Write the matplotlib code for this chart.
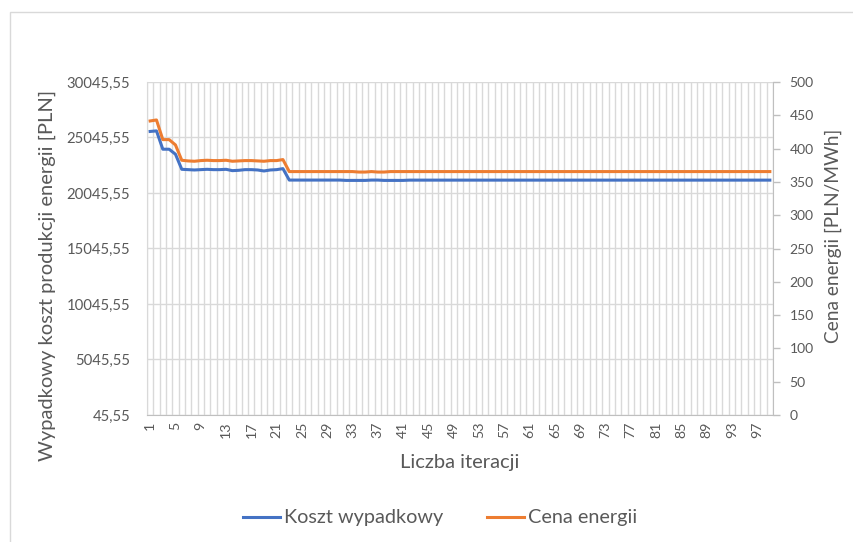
import matplotlib.pyplot as plt
from matplotlib.patches import Rectangle

plt.rcParams['font.family'] = ['Lato', 'DejaVu Sans']

# dane
iteracje = list(range(1, 100))

koszt = ([25590, 25640, 23990, 23990, 23540, 22180,
          22150, 22120, 22150, 22180, 22150, 22150, 22180, 22060, 22090, 22150,
          22150, 22120, 22030, 22120, 22150, 22240]
         + [21210] * 9 + [21180] * 4 + [21210] * 2 + [21180] * 4 + [21205] * 58)

cena = ([441.5, 443.0, 413.5, 413.5, 405.5, 382.5,
         381.5, 381.0, 382.0, 382.5, 382.0, 382.0, 382.5, 381.0, 381.5, 382.0,
         382.0, 381.5, 381.0, 382.0, 382.0, 383.5]
        + [365.5] * 11 + [364.8] * 2 + [365.5] * 1 + [364.8] * 2 + [365.5] * 61)

lewe_ticki = [45.55 + 5000 * i for i in range(7)]
lewe_etykiety = ['45,55', '5045,55', '10045,55', '15045,55', '20045,55', '25045,55', '30045,55']
prawe_ticki = list(range(0, 501, 50))

tekst = '#595959'
siatka = '#D9D9D9'
niebieski = '#4472C4'
pomaranczowy = '#ED7D31'

fig = plt.figure(figsize=(8.54, 5.42), dpi=100)
# ramka obszaru wykresu (wychodzi poza prawy i dolny brzeg)
fig.patches.append(Rectangle((10 / 854, -0.1), 1.2, 1 - 12 / 542 + 0.1, transform=fig.transFigure,
                             fill=False, edgecolor=siatka, linewidth=1))

ax = fig.add_axes([147 / 854, 1 - 415 / 542, (773 - 147) / 854, (415 - 82) / 542])
ax2 = ax.twinx()

ln1, = ax.plot(iteracje, koszt, color=niebieski, linewidth=2.2, label='Koszt wypadkowy', zorder=3)
ln2, = ax2.plot(iteracje, cena, color=pomaranczowy, linewidth=2.2, label='Cena energii', zorder=3)

ax.set_xlim(0.5, 99.5)
ax.set_ylim(45.55, 30045.55)
ax2.set_ylim(0, 500)

# siatka pozioma i pionowa (granice kategorii)
for y in lewe_ticki:
    ax.axhline(y, color=siatka, linewidth=1, zorder=0)
for x in range(0, 100):
    ax.axvline(x + 0.5, color=siatka, linewidth=1, zorder=0)

ax.set_yticks(lewe_ticki)
ax.set_yticklabels(lewe_etykiety)
ax.set_xticks(iteracje[::4])
ax.set_xticklabels([str(i) for i in iteracje[::4]], rotation=90)
ax2.set_yticks(prawe_ticki)

ax.tick_params(axis='y', length=0, pad=12.2, labelsize=10.7, labelcolor=tekst)
ax.tick_params(axis='x', length=0, pad=5, labelsize=10.2, labelcolor=tekst)
ax2.tick_params(axis='y', length=5, width=1, color='#BFBFBF', pad=6.8, labelsize=10, labelcolor=tekst)

for a in (ax, ax2):
    for s in a.spines.values():
        s.set_visible(False)
ax.spines['bottom'].set_visible(True)
ax.spines['bottom'].set_color('#BFBFBF')
ax.spines['left'].set_visible(True)
ax.spines['left'].set_color(siatka)
ax2.spines['right'].set_visible(True)
ax2.spines['right'].set_color('#BFBFBF')

ax.set_ylabel('Wypadkowy koszt produkcji energii [PLN]', fontsize=14.5, color=tekst)
ax.yaxis.set_label_coords(-0.1454, 0.4204)
ax2.set_ylabel('Cena energii [PLN/MWh]', fontsize=13.8, color=tekst)
ax2.yaxis.set_label_coords(1.0831, 0.5375)
ax.set_xlabel('Liczba iteracji', fontsize=14.5, color=tekst)
ax.xaxis.set_label_coords(0.4992, -0.1171)

fig.legend(handles=[ln1, ln2], loc='center', bbox_to_anchor=(440 / 854, 1 - 518 / 542), ncol=2,
           frameon=False, fontsize=14.3, labelcolor=tekst, handlelength=1.85, handletextpad=0.2,
           columnspacing=2.2)

fig.savefig('out.png', dpi=100)
